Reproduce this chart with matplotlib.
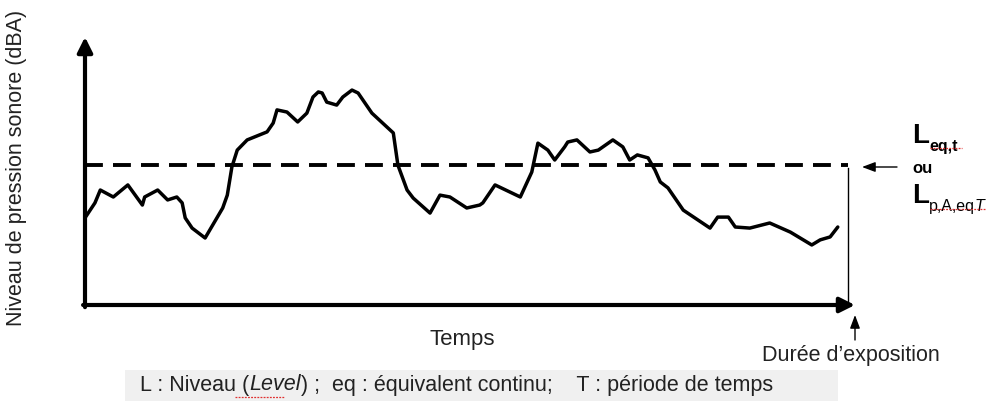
import matplotlib
matplotlib.use("Agg")
import matplotlib.pyplot as plt
from matplotlib.patches import Rectangle

plt.rcParams['font.family'] = ['Liberation Sans', 'DejaVu Sans']

# time (percent of exposure) and sound level (arbitrary scale 0-100)
times = [0, 1.3, 2.0, 3.7, 5.6, 7.5, 7.8, 9.5, 10.8, 12.0, 12.7, 13.1, 14.0, 15.7,
         18.0, 18.6, 19.2, 19.9, 21.2, 23.8, 24.6, 25.1, 26.4, 27.8, 29.0, 29.8,
         30.5, 31.0, 31.6, 32.9, 33.7, 34.9, 35.7, 37.5, 40.3, 40.9, 42.1, 42.9,
         45.1, 46.4, 47.7, 49.9, 51.6, 52.0, 53.6, 56.9, 58.4, 59.2, 60.5, 61.4,
         62.7, 63.1, 64.3, 66.0, 67.1, 69.0, 70.3, 71.2, 72.2, 73.6, 74.5, 75.2,
         76.2, 78.2, 81.7, 82.7, 84.1, 85.0, 86.9, 89.5, 92.2, 95.0, 96.1, 97.4, 98.4]
levels = [32.5, 38.1, 42.9, 40.3, 44.8, 37.3, 40.3, 42.9, 39.2, 40.3, 38.1, 32.5, 28.7, 25.0,
          36.2, 41.0, 51.5, 57.8, 61.6, 64.6, 67.9, 72.8, 72.0, 68.3, 71.6, 77.6,
          79.5, 79.1, 75.7, 74.6, 77.6, 80.2, 79.1, 71.6, 64.2, 52.2, 42.9, 39.9,
          34.3, 41.0, 40.3, 36.2, 37.3, 38.1, 44.8, 40.3, 49.6, 60.4, 57.8, 54.1,
          59.0, 60.8, 61.6, 57.1, 57.8, 61.6, 59.0, 54.1, 56.0, 54.9, 50.4, 45.9,
          43.7, 35.4, 28.7, 32.8, 32.8, 29.1, 28.7, 30.6, 27.2, 22.4, 24.3, 25.4, 29.1]
leq = 52.2
t_exposure = 99.7

W, H = 993, 403
fig = plt.figure(figsize=(W / 100, H / 100), dpi=100)


def fx(px):
    return px / W


def fy(py):
    return (H - py) / H


# plot region in pixels: x 85..855, y 37..305
ax = fig.add_axes([fx(85), fy(305), 770 / W, 268 / H])
ax.set_xlim(0, 100.65)
ax.set_ylim(0, 100)
ax.axis('off')

ax.plot(times, levels, color='black', lw=2.5, solid_capstyle='round', solid_joinstyle='round')
ax.plot([0, t_exposure], [leq, leq], color='black', lw=2.8, dashes=(4.6, 2.6))
ax.plot([t_exposure, t_exposure], [0, leq - 1], color='black', lw=1.0)

# axes with arrows
head = '-|>,head_length=0.9,head_width=0.45'
ax.annotate('', xy=(100.65, 0), xytext=(-0.25, 0), annotation_clip=False,
            arrowprops=dict(arrowstyle=head, lw=3, color='black', shrinkA=0, shrinkB=0))
ax.annotate('', xy=(0, 100), xytext=(0, -0.8), annotation_clip=False,
            arrowprops=dict(arrowstyle=head, lw=3, color='black', shrinkA=0, shrinkB=0))

small = '-|>,head_length=0.8,head_width=0.3'
ax.annotate('', xy=(fx(855), fy(315)), xytext=(fx(855), fy(340)),
            xycoords='figure fraction', textcoords='figure fraction', annotation_clip=False,
            arrowprops=dict(arrowstyle=small, lw=1, color='black', shrinkA=0, shrinkB=0))
ax.annotate('', xy=(fx(862), fy(167)), xytext=(fx(897), fy(167)),
            xycoords='figure fraction', textcoords='figure fraction', annotation_clip=False,
            arrowprops=dict(arrowstyle=small, lw=1, color='black', shrinkA=0, shrinkB=0))

txt = '#222222'
fig.text(fx(17), fy(168), 'Niveau de pression sonore (dBA)', rotation=90, ha='center',
         va='center', fontsize=15.5, color=txt)
fig.text(fx(462), fy(340), 'Temps', ha='center', va='center', fontsize=16, color=txt)
fig.text(fx(851), fy(355), 'Durée d\u2019exposition', ha='center', va='center', fontsize=15.5,
         color=txt)

# right-hand labels
l1 = fig.text(fx(912), fy(143), 'L', ha='left', va='baseline', fontsize=20, fontweight='bold')
ax.annotate('eq,t', xy=(1, 0), xycoords=l1, xytext=(0, -1.5), textcoords='offset points',
            ha='left', va='baseline', fontsize=11.5, fontweight='bold', annotation_clip=False)
fig.text(fx(912), fy(169), 'ou', ha='left', va='center', fontsize=12, fontweight='bold')
l2 = fig.text(fx(912), fy(203), 'L', ha='left', va='baseline', fontsize=20, fontweight='bold')
s2 = ax.annotate('p,A,eq', xy=(1, 0), xycoords=l2, xytext=(0, -1.5), textcoords='offset points',
                 ha='left', va='baseline', fontsize=11.5, annotation_clip=False)
ax.annotate('T', xy=(1, 0), xycoords=s2, ha='left', va='bottom', fontsize=11.5, style='italic',
            annotation_clip=False)

# caption box
fig.add_artist(Rectangle((fx(125), fy(401)), (838 - 125) / W, 31 / H, transform=fig.transFigure,
                         facecolor='#f0f0f0', edgecolor='none', zorder=0))
c1 = fig.text(fx(140), fy(385), 'L : Niveau (', ha='left', va='center', fontsize=15.5, color=txt)
c2 = ax.annotate('Level', xy=(1, 0), xycoords=c1, ha='left', va='bottom', fontsize=15.5,
                 style='italic', color=txt, annotation_clip=False)
ax.annotate(') ;  eq : équivalent continu;    T : période de temps', xy=(1, 0), xycoords=c2,
            ha='left', va='bottom', fontsize=15.5, color=txt, annotation_clip=False)

# spell-check underline marks
for x0, x1, y0 in [(930, 962, 148), (930, 986, 209), (235, 285, 397)]:
    fig.add_artist(plt.Line2D([fx(x0), fx(x1)], [fy(y0), fy(y0)], color='#e03030', lw=0.9,
                              ls=(0, (1.5, 1.0))))

fig.savefig('out.png', dpi=100)
